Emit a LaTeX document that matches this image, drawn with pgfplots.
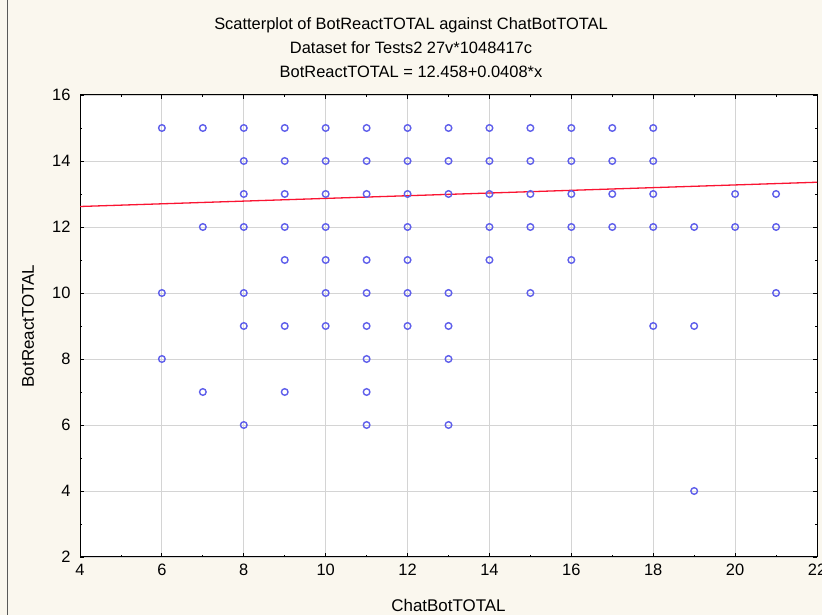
\documentclass[border=0pt]{standalone}
\usepackage{pgfplots}
\pgfplotsset{compat=1.18}
\usepackage{fontspec}
\setmainfont{Liberation Sans}
\definecolor{bgc}{RGB}{250,247,238}
\definecolor{mk}{RGB}{95,95,235}
\definecolor{rl}{RGB}{250,20,50}
\definecolor{gr}{RGB}{212,212,212}
\begin{document}
\begin{tikzpicture}[x=1bp,y=1bp]
\clip (0,0) rectangle (822,615);
\fill[bgc] (0,0) rectangle (822,615);
\draw[black!65, line width=1.2bp] (7.5,0) -- (7.5,615);
\node[font=\fontsize{16.5}{18}\selectfont] at (411,590) {Scatterplot of BotReactTOTAL against ChatBotTOTAL};
\node[font=\fontsize{16.5}{18}\selectfont] at (411,567) {Dataset for Tests2 27v*1048417c};
\node[font=\fontsize{16.5}{18}\selectfont] at (411,543) {BotReactTOTAL = 12.458+0.0408*x};
\begin{axis}[
  at={(80bp,58bp)}, anchor=south west,
  scale only axis, width=737bp, height=462bp,
  xmin=4, xmax=22, ymin=2, ymax=16,
  xtick={4,6,...,22}, ytick={2,4,...,16},
  minor x tick num=1, minor y tick num=1,
  tick align=inside, major tick length=4bp, minor tick length=2bp,
  tick style={black, line width=0.8bp},
  grid=major, major grid style={gr, line width=0.9bp},
  axis background/.style={fill=white},
  axis line style={black, line width=1bp},
  ticklabel style={font=\fontsize{16.5}{18}\selectfont},
  xticklabel style={yshift=-4bp},
  yticklabel style={xshift=-6bp},
  /pgf/number format/assume math mode=true,
  xlabel={ChatBotTOTAL}, ylabel={BotReactTOTAL},
  label style={font=\fontsize{17}{19}\selectfont},
  xlabel style={at={(axis description cs:0.5,-0.104)}, anchor=center},
  ylabel style={at={(axis description cs:-0.0706,0.5)}, anchor=center},
]
\addplot[only marks, mark=o, mark size=3.3bp, mk, mark options={line width=1.4bp}] table {
x y
6 15
7 15
8 15
9 15
10 15
11 15
12 15
13 15
14 15
15 15
16 15
17 15
18 15
8 14
9 14
10 14
11 14
12 14
13 14
14 14
15 14
16 14
17 14
18 14
8 13
9 13
10 13
11 13
12 13
13 13
14 13
15 13
16 13
17 13
18 13
20 13
21 13
7 12
8 12
9 12
10 12
12 12
14 12
15 12
16 12
17 12
18 12
19 12
20 12
21 12
9 11
10 11
11 11
12 11
14 11
16 11
6 10
8 10
10 10
11 10
12 10
13 10
15 10
21 10
8 9
9 9
10 9
11 9
12 9
13 9
18 9
19 9
6 8
11 8
13 8
7 7
9 7
11 7
8 6
11 6
13 6
19 4
};
\addplot[rl, line width=1.3bp] coordinates {(4,12.621) (22,13.356)};
\end{axis}
\end{tikzpicture}
\end{document}
